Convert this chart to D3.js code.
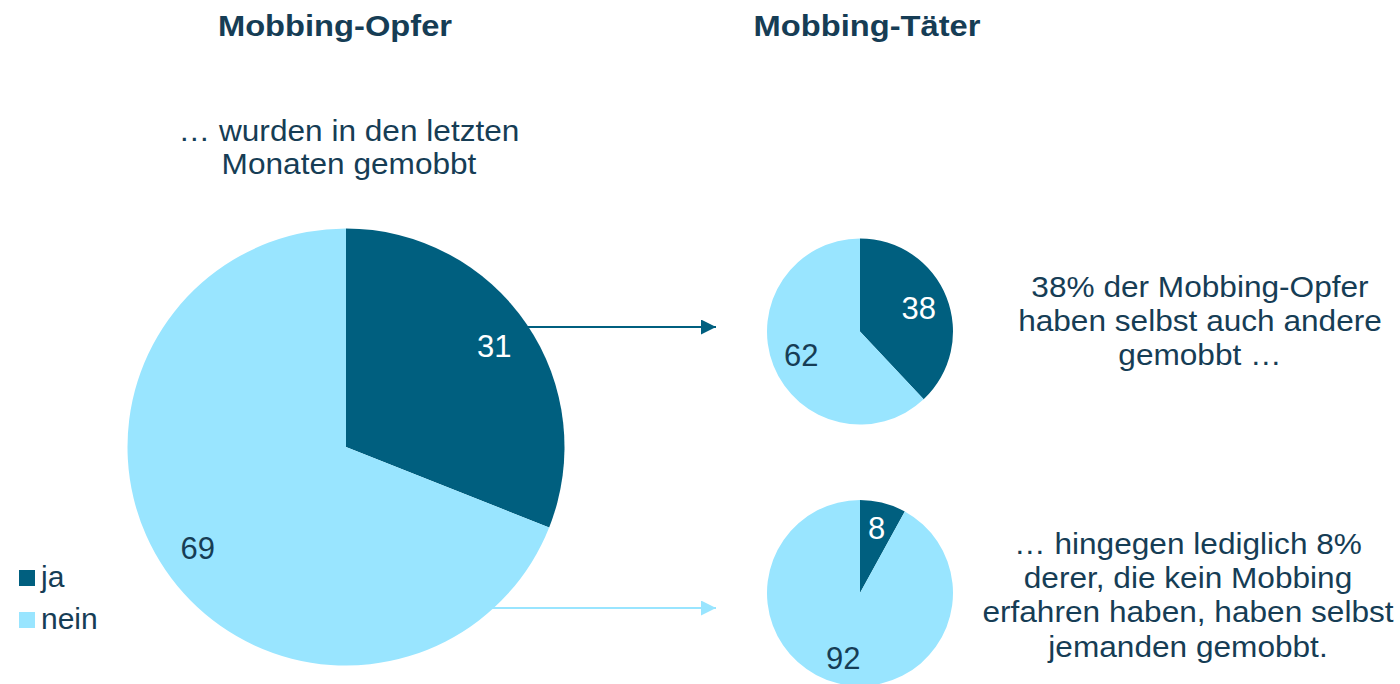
<!DOCTYPE html>
<html>
<head>
<meta charset="utf-8">
<script src="https://cdn.jsdelivr.net/npm/d3@7/dist/d3.min.js"></script>
<style>
  html, body { margin: 0; padding: 0; background: #ffffff; }
  svg { display: block; font-family: "Liberation Sans", Arial, sans-serif; }
</style>
</head>
<body>
<svg id="chart" width="1400" height="684"></svg>
<script>
// Categories and shares (percent)
const categories = ["ja", "nein"];
const victims = [31, 69];              // wurden in den letzten Monaten gemobbt
const victimsWhoBully = [38, 62];      // Mobbing-Opfer, die selbst mobben
const nonVictimsWhoBully = [8, 92];    // Nicht-Opfer, die selbst mobben

const titles = ["Mobbing-Opfer", "Mobbing-Täter"];
const victimsNote = ["… wurden in den letzten", "Monaten gemobbt"];
const noteTop = ["38% der Mobbing-Opfer", "haben selbst auch andere", "gemobbt …"];
const noteBottom = ["… hingegen lediglich 8%", "derer, die kein Mobbing", "erfahren haben, haben selbst", "jemanden gemobbt."];

const DARK = "#005f7f";
const LIGHT = "#99e5ff";
const TEXT = "#163d55";

const color = d3.scaleOrdinal().domain(categories).range([DARK, LIGHT]);
const labelColor = d3.scaleOrdinal().domain(categories).range(["#ffffff", TEXT]);

const svg = d3.select("#chart");

// Arrow markers
const defs = svg.append("defs");
[["arrowDark", DARK], ["arrowLight", LIGHT]].forEach(([id, c]) => {
  defs.append("marker")
    .attr("id", id)
    .attr("viewBox", "0 0 10 10")
    .attr("refX", 10).attr("refY", 5)
    .attr("markerUnits", "userSpaceOnUse")
    .attr("markerWidth", 16).attr("markerHeight", 15)
    .attr("orient", "auto")
    .append("path")
    .attr("d", "M0,0 L10,5 L0,10 Z")
    .attr("fill", c);
});

const pie = d3.pie().sort(null).value(d => d);

const big = { cx: 346, cy: 447, r: 218.5, labelK: 0.82, data: victims };
const smallTop = { cx: 860, cy: 331.5, r: 93, labelK: 0.68, data: victimsWhoBully };
const smallBottom = { cx: 860, cy: 593, r: 93, labelK: 0.72, data: nonVictimsWhoBully };

// Connector arrows, drawn first so they sit behind the large pie
const arrowEndX = 716;
[[327, DARK, "arrowDark"], [608, LIGHT, "arrowLight"]].forEach(([y, c, m]) => {
  const dy = y - big.cy;
  const x0 = big.cx + Math.sqrt(big.r * big.r - dy * dy) - 2;
  svg.append("line")
    .attr("x1", x0).attr("y1", y)
    .attr("x2", arrowEndX).attr("y2", y)
    .attr("stroke", c)
    .attr("stroke-width", 2)
    .attr("marker-end", `url(#${m})`);
});

function drawPie(p) {
  const g = svg.append("g").attr("transform", `translate(${p.cx},${p.cy})`);
  const arcs = pie(p.data);
  const arc = d3.arc().innerRadius(0).outerRadius(p.r);
  const labelArc = d3.arc().innerRadius(p.r * p.labelK).outerRadius(p.r * p.labelK);
  g.selectAll("path.slice")
    .data(arcs)
    .join("path")
    .attr("class", "slice")
    .attr("d", arc)
    .attr("fill", (d, i) => color(categories[i]));
  g.selectAll("text.val")
    .data(arcs)
    .join("text")
    .attr("class", "val")
    .attr("transform", d => `translate(${labelArc.centroid(d)})`)
    .attr("text-anchor", "middle")
    .attr("dy", "0.36em")
    .attr("font-size", 31)
    .attr("fill", (d, i) => labelColor(categories[i]))
    .text(d => d.data);
}

drawPie(big);
drawPie(smallTop);
drawPie(smallBottom);

// Column titles (slightly widened lettering)
[[335, titles[0]], [867, titles[1]]].forEach(([x, t]) => {
  svg.append("text")
    .attr("transform", `translate(${x},36) scale(1.09,1)`)
    .attr("text-anchor", "middle")
    .attr("font-size", 30)
    .attr("font-weight", "bold")
    .attr("fill", TEXT)
    .text(t);
});

function block(lines, cx, baselines) {
  const t = svg.append("text")
    .attr("transform", `translate(${cx},0) scale(1.09,1)`)
    .attr("text-anchor", "middle")
    .attr("font-size", 29)
    .attr("fill", TEXT);
  lines.forEach((l, i) => {
    t.append("tspan").attr("x", 0).attr("y", baselines[i]).text(l);
  });
}

block(victimsNote, 349, [141, 174]);
block(noteTop, 1200, [297, 331, 365]);
block(noteBottom, 1188, [554, 588, 622, 657]);

// Legend
const legend = svg.append("g");
categories.forEach((c, i) => {
  const y = 570 + i * 42;
  legend.append("rect")
    .attr("x", 19).attr("y", y)
    .attr("width", 16).attr("height", 16)
    .attr("fill", color(c));
  legend.append("text")
    .attr("x", 41).attr("y", y + 17)
    .attr("font-size", 30)
    .attr("fill", TEXT)
    .text(c);
});
</script>
</body>
</html>
